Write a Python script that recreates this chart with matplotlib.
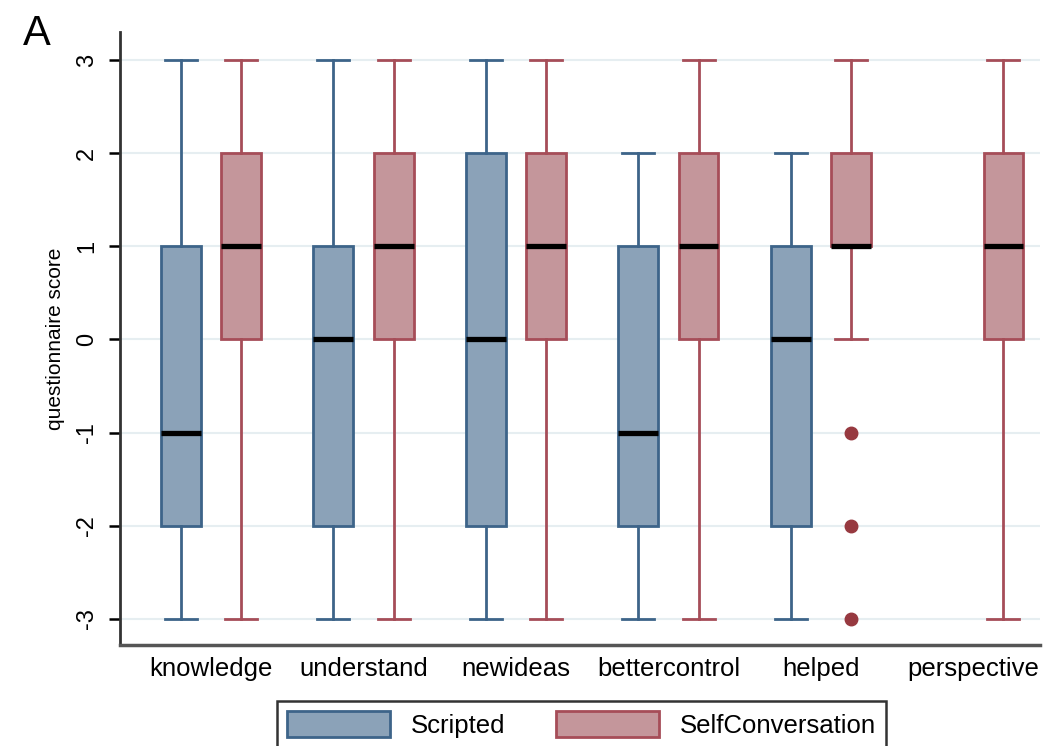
import matplotlib.pyplot as plt
import numpy as np

plt.rcParams['font.family'] = ['Liberation Sans', 'DejaVu Sans']

categories = ["knowledge", "understand", "newideas", "bettercontrol", "helped", "perspective"]

# Scripted (no data for perspective)
scr_q1 = [-2, -2, -2, -2, -2]
scr_med = [-1, 0, 0, -1, 0]
scr_q3 = [1, 1, 2, 1, 1]
scr_lo = [-3, -3, -3, -3, -3]
scr_hi = [3, 3, 3, 2, 2]

# SelfConversation
self_q1 = [0, 0, 0, 0, 1, 0]
self_med = [1, 1, 1, 1, 1, 1]
self_q3 = [2, 2, 2, 2, 2, 2]
self_lo = [-3, -3, -3, -3, 0, -3]
self_hi = [3, 3, 3, 3, 3, 3]
self_fliers = [[], [], [], [], [-1, -2, -3], []]

scr_fill, scr_edge = "#8ba2b8", "#3d6489"
self_fill, self_edge = "#c4969b", "#a64d58"


def make_stats(q1, med, q3, lo, hi, fliers=None):
    out = []
    for i in range(len(med)):
        out.append(dict(med=med[i], q1=q1[i], q3=q3[i], whislo=lo[i], whishi=hi[i],
                        fliers=fliers[i] if fliers else []))
    return out


fig = plt.figure(figsize=(10.46, 7.46), dpi=100)
ax = fig.add_axes([0.1147, 0.1354, 0.8795, 0.8216])

off = 0.197
w = 0.262
x = np.arange(len(categories))


def draw(stats, pos, fill, edge):
    ax.bxp(stats, positions=pos, widths=w, patch_artist=True, showfliers=True,
           capwidths=0.21,
           boxprops=dict(facecolor=fill, edgecolor=edge, linewidth=2),
           whiskerprops=dict(color=edge, linewidth=2),
           capprops=dict(color=edge, linewidth=2),
           medianprops=dict(color="black", linewidth=3.8),
           flierprops=dict(marker="o", markerfacecolor="#973940", markeredgecolor="#973940",
                           markersize=9))


draw(make_stats(scr_q1, scr_med, scr_q3, scr_lo, scr_hi), x[:5] - off, scr_fill, scr_edge)
draw(make_stats(self_q1, self_med, self_q3, self_lo, self_hi, self_fliers), x + off, self_fill, self_edge)

ax.set_xlim(-0.597, 5.436)
ax.set_ylim(-3.28, 3.30)
ax.set_xticks(x)
ax.set_xticklabels(categories, fontsize=18.5)
ax.tick_params(axis="x", length=0, pad=9)
ax.set_yticks([-3, -2, -1, 0, 1, 2, 3])
ax.set_yticklabels(["-3", "-2", "-1", "0", "1", "2", "3"], rotation=90, va="center", fontsize=17)
ax.tick_params(axis="y", length=8, width=1.8, pad=8)
ax.set_ylabel("questionnaire score", fontsize=15, labelpad=8)
ax.yaxis.grid(True, color="#e6eef1", linewidth=1.5)
ax.set_axisbelow(True)
for s in ["top", "right"]:
    ax.spines[s].set_visible(False)
ax.spines["left"].set_linewidth(2)
ax.spines["left"].set_color("#333333")
ax.spines["bottom"].set_linewidth(2.5)
ax.spines["bottom"].set_color("#555555")

handles = [plt.Rectangle((0, 0), 1, 1, facecolor=scr_fill, edgecolor=scr_edge, linewidth=2),
           plt.Rectangle((0, 0), 1, 1, facecolor=self_fill, edgecolor=self_edge, linewidth=2)]
leg = fig.legend(handles, ["Scripted", "SelfConversation"], loc="upper center",
                 bbox_to_anchor=(0.556, 0.078), ncol=2, fontsize=18.5, frameon=True,
                 fancybox=False, edgecolor="black", handlelength=4, handleheight=1.2,
                 columnspacing=2.0, borderpad=0.4)
leg.get_frame().set_linewidth(1.8)

fig.text(0.022, 0.94, "A", fontsize=30)

fig.savefig("out.png", dpi=100)
